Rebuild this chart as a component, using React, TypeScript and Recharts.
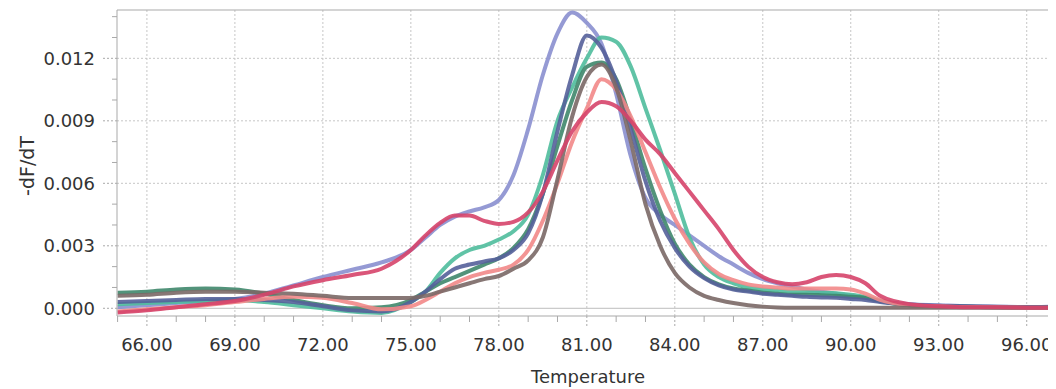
import React from 'react';
import { LineChart, Line, XAxis, YAxis, ReferenceLine } from 'recharts';

// melt curve: -dF/dT against temperature, one array per well
const temps = [
  65, 66, 67, 68, 69, 70, 71, 72, 73, 74,
  75, 75.5, 76, 76.5, 77, 77.5, 78, 78.5, 79, 79.5, 80, 80.5, 81, 81.5, 82, 82.5,
  83, 83.5, 84, 84.5, 85, 85.5, 86, 86.5, 87, 87.5, 88, 88.5, 89, 89.5, 90, 90.5, 91,
  92, 93, 94, 95, 96, 96.8,
];

const lavender = [
  0.00005, 0.00015, 0.00025, 0.00035, 0.00045, 0.0007, 0.0011, 0.0015, 0.00185, 0.0022,
  0.0028, 0.0034, 0.004, 0.0044, 0.00465, 0.00485, 0.0052, 0.0064, 0.0086, 0.0112, 0.0132, 0.0142, 0.0137, 0.0127, 0.0103, 0.0073,
  0.0053, 0.0045, 0.004, 0.0035, 0.003, 0.0025, 0.0021, 0.0017, 0.0014, 0.0012, 0.00105, 0.0009, 0.0008, 0.0007, 0.0006, 0.0005, 0.00035,
  0.0002, 0.00015, 0.0001, 0.00008, 0.00006, 0.00008,
];

const teal = [
  0.0002, 0.00025, 0.0003, 0.00035, 0.0004, 0.0003, 0.00015, 0.0, -0.00015, -0.00022,
  0.0003, 0.0008, 0.0017, 0.0024, 0.0028, 0.003, 0.0033, 0.0037, 0.0045, 0.0064, 0.009, 0.0106, 0.012, 0.013, 0.0128, 0.0116,
  0.0096, 0.0076, 0.0055, 0.0034, 0.0021, 0.0015, 0.0012, 0.001, 0.0009, 0.00085, 0.0008, 0.00078, 0.00075, 0.00072, 0.00065, 0.00054, 0.00035,
  0.00015, 0.0001, 0.00008, 0.00005, 0.00005, 0.00005,
];

const darkGreen = [
  0.00075, 0.0008, 0.0009, 0.00095, 0.0009, 0.0007, 0.0004, 0.00015, 0.0, 0.00005,
  0.0004, 0.0008, 0.0012, 0.0015, 0.0018, 0.0021, 0.0024, 0.0029, 0.0038, 0.0055, 0.0078, 0.01, 0.0116, 0.0118, 0.011, 0.009,
  0.0067, 0.0047, 0.0031, 0.0021, 0.0015, 0.00115, 0.00095, 0.00085, 0.00075, 0.0007, 0.00065, 0.00065, 0.00063, 0.0006, 0.00055, 0.0005, 0.00035,
  0.00015, 0.0001, 0.00007, 0.00005, 0.00004, 0.00004,
];

const slate = [
  0.0003, 0.00035, 0.0004, 0.00045, 0.00045, 0.0004, 0.0003, 0.0001, -0.0001, -0.00015,
  0.0003, 0.0008, 0.0014, 0.0019, 0.0021, 0.00225, 0.0024, 0.0028, 0.0036, 0.0055, 0.0085, 0.0112, 0.0131, 0.0125, 0.0109, 0.0086,
  0.0061, 0.0042, 0.0029, 0.002, 0.00145, 0.0011, 0.0009, 0.0008, 0.0007, 0.00065, 0.0006, 0.00055, 0.00052, 0.0005, 0.00045, 0.0004, 0.0003,
  0.00018, 0.00012, 0.0001, 0.00007, 0.00006, 0.00006,
];

const salmon = [
  -0.00015, -0.00005, 0.00005, 0.00015, 0.0003, 0.00045, 0.00055, 0.0005, 0.00025, -0.00005,
  0.0001, 0.0004, 0.0008, 0.0012, 0.0015, 0.0017, 0.00185, 0.0021, 0.0028, 0.0042, 0.006, 0.008, 0.0096, 0.011, 0.0105, 0.0092,
  0.0075, 0.0058, 0.0043, 0.0031, 0.0022, 0.00165, 0.00135, 0.00115, 0.00105, 0.001, 0.00095, 0.00095, 0.00095, 0.00095, 0.0009, 0.0007, 0.0004,
  0.00015, 0.0001, 0.00006, 0.00005, 0.00003, 0.00003,
];

const brown = [
  0.0006, 0.00065, 0.00075, 0.0008, 0.0008, 0.00075, 0.0007, 0.0006, 0.0005, 0.0005,
  0.0005, 0.0006, 0.0008, 0.001, 0.0012, 0.0014, 0.00155, 0.0019, 0.0023, 0.0034, 0.0062, 0.0092, 0.0111, 0.0117, 0.0106, 0.008,
  0.005, 0.003, 0.0017, 0.001, 0.0006, 0.0004, 0.00025, 0.00015, 0.00008, 0.00004, 0.00003, 0.00003, 0.00003, 0.00003, 0.00003, 0.00003, 0.00003,
  0.00003, 0.00003, 0.00003, 0.00003, 0.00003, 0.00003,
];

const crimson = [
  -0.0002, -0.0001, 0.00005, 0.0002, 0.00035, 0.00065, 0.00105, 0.00135, 0.0016, 0.0019,
  0.0028, 0.0035, 0.0041, 0.00445, 0.00445, 0.0042, 0.00405, 0.00415, 0.0046, 0.0056, 0.0071, 0.0085, 0.0094, 0.0099, 0.0097, 0.009,
  0.0081, 0.0074, 0.0065, 0.0056, 0.0047, 0.0038, 0.0028, 0.002, 0.0015, 0.00125, 0.00115, 0.00125, 0.0015, 0.0016, 0.0015, 0.0012, 0.0006,
  0.0002, 0.0001, 0.00005, 0.00005, 0.00003, 0.00003,
];

const xMajorTicks = [66, 69, 72, 75, 78, 81, 84, 87, 90, 93, 96];
const xMinorTicks = [
  65, 66, 67, 68, 69, 70, 71, 72, 73, 74, 75, 76, 77, 78, 79, 80,
  81, 82, 83, 84, 85, 86, 87, 88, 89, 90, 91, 92, 93, 94, 95, 96,
];
const yMajorTicks = [0, 0.003, 0.006, 0.009, 0.012];
const yMinorTicks = [
  0, 0.001, 0.002, 0.003, 0.004, 0.005, 0.006, 0.007,
  0.008, 0.009, 0.01, 0.011, 0.012, 0.013, 0.014,
];

const xDomain = [64.98, 96.93];
const yDomain = [-0.00037, 0.01432];

const series = [
  { key: 'lavender', color: '#8a8fcf', values: lavender },
  { key: 'teal', color: '#4fbc9c', values: teal },
  { key: 'darkGreen', color: '#3f876c', values: darkGreen },
  { key: 'slate', color: '#55609a', values: slate },
  { key: 'salmon', color: '#f28888', values: salmon },
  { key: 'brown', color: '#7a6866', values: brown },
  { key: 'crimson', color: '#d6446a', values: crimson },
];

const data = temps.map((t, i) => {
  const row: Record<string, number> = { t };
  series.forEach((s) => {
    row[s.key] = s.values[i];
  });
  return row;
});

const FONT = 'DejaVu Sans, Verdana, sans-serif';
const TEXT = '#333333';
const AXIS = '#a9a9a9';
const GRID = '#c6c6c6';

const isMajor = (list: number[], v: number) => list.some((m) => Math.abs(m - v) < 1e-9);

function XTick({ x, y, payload }: any) {
  const v = payload.value;
  const major = isMajor(xMajorTicks, v);
  return (
    <g>
      <line
        x1={x}
        y1={y}
        x2={x}
        y2={y + (major ? 10 : 6)}
        stroke={AXIS}
        strokeDasharray={major ? '2 2' : undefined}
      />
      {major && (
        <text x={x} y={y + 22} dy="0.71em" textAnchor="middle" fontFamily={FONT} fontSize={18} fill={TEXT}>
          {v.toFixed(2)}
        </text>
      )}
    </g>
  );
}

function YTick({ x, y, payload }: any) {
  const v = payload.value;
  const major = isMajor(yMajorTicks, v);
  return (
    <g>
      <line
        x1={x - (major ? 14 : 5)}
        y1={y}
        x2={x}
        y2={y}
        stroke={AXIS}
        strokeDasharray={major ? '2 2' : undefined}
      />
      {major && (
        <text x={x - 22} y={y} dy="0.36em" textAnchor="end" fontFamily={FONT} fontSize={18} fill={TEXT}>
          {v.toFixed(3)}
        </text>
      )}
    </g>
  );
}

export default function App() {
  return (
    <div style={{ width: 1048, height: 381 }}>
      <LineChart width={1048} height={381} data={data} margin={{ top: 2, right: 2, bottom: 0, left: 0 }}>
        <XAxis
          dataKey="t"
          type="number"
          domain={xDomain}
          allowDataOverflow
          ticks={xMinorTicks}
          interval={0}
          tickSize={0}
          tickMargin={0}
          tick={<XTick />}
          height={73}
          axisLine={{ stroke: AXIS }}
          label={{
            content: () => (
              <text x={580} y={375} textAnchor="middle" fontFamily={FONT} fontSize={18} fill={TEXT}>
                Temperature
              </text>
            ),
          }}
        />
        <YAxis
          type="number"
          domain={yDomain}
          allowDataOverflow
          ticks={yMinorTicks}
          interval={0}
          tickSize={0}
          tickMargin={0}
          tick={<YTick />}
          width={109}
          axisLine={{ stroke: AXIS }}
          label={{
            content: () => (
              <text
                x={19}
                y={158}
                transform="rotate(-90 19 158)"
                textAnchor="middle"
                dominantBaseline="central"
                fontFamily={FONT}
                fontSize={19}
                fill={TEXT}
              >
                -dF/dT
              </text>
            ),
          }}
        />
        {xMajorTicks.map((v) => (
          <ReferenceLine key={`gx${v}`} x={v} stroke={GRID} strokeDasharray="2 2" />
        ))}
        {yMajorTicks.filter((v) => v > 0).map((v) => (
          <ReferenceLine key={`gy${v}`} y={v} stroke={GRID} strokeDasharray="2 2" />
        ))}
        <ReferenceLine y={0} stroke="#bdbdbd" />
        <ReferenceLine y={yDomain[1]} stroke={AXIS} />
        {series.map((s) => (
          <Line
            key={s.key}
            dataKey={s.key}
            type="monotone"
            stroke={s.color}
            strokeWidth={4}
            strokeOpacity={0.9}
            dot={false}
            activeDot={false}
            isAnimationActive={false}
          />
        ))}
      </LineChart>
    </div>
  );
}
